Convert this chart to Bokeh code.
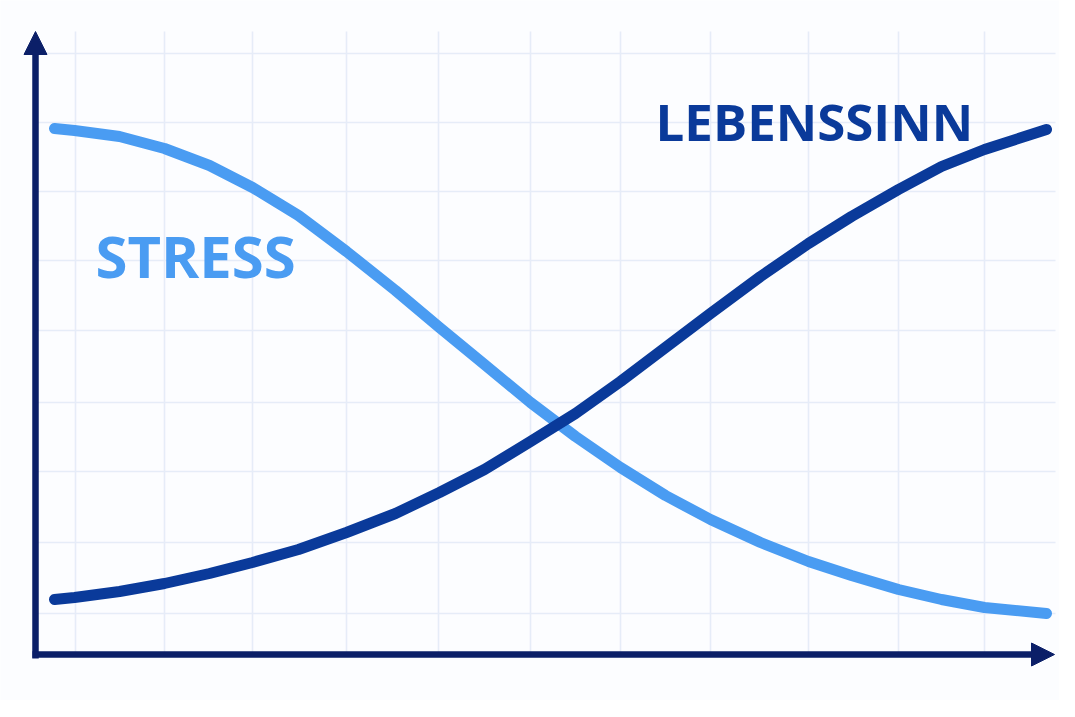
from bokeh.plotting import figure
from bokeh.models import Range1d, Arrow, NormalHead
from bokeh.core.properties import value
from bokeh.embed import file_html
from bokeh.resources import INLINE

# ---- data (unitless scale; origin at the axes corner) ----
x_vals = [19, 39, 84, 129, 174, 217, 263, 311, 360, 404, 449, 495, 540, 585,
          630, 675, 725, 773, 816, 863, 906, 949, 1011]
stress = [527, 525, 519, 507, 490, 468, 440, 404, 365, 328, 291, 253, 219, 188,
          160, 136, 113, 94, 80, 66, 56, 48, 42]
lebenssinn = [56, 58, 64, 72, 82, 93, 106, 123, 142, 163, 186, 214, 242, 274,
              308, 342, 379, 412, 439, 466, 489, 506, 526]
grid_x = [40, 129, 217, 311, 403, 495, 585, 675, 773, 863, 949]
grid_y = [42, 113, 184, 253, 325, 395, 464, 533, 602]
labels = ["STRESS", "LEBENSSINN"]

# ---- style ----
STRESS_C = "#4a9cf2"
LEBEN_C = "#0a3a9a"
AXIS_C = "#0b1f68"
GRID_C = "#e6ecf8"
BG = "#fcfdff"

W, H = 1059, 700
p = figure(width=W, height=H, output_backend="svg", toolbar_location=None,
           x_range=Range1d(-35, 1024), y_range=Range1d(-45, 655),
           min_border=0, background_fill_color=BG, border_fill_color=BG)
p.outline_line_color = None
p.axis.visible = False
p.grid.visible = False

# grid (drawn from tick lists)
gx0, gx1 = 1, 1020
gy0, gy1 = 0, 624
p.segment(x0=grid_x, y0=[gy0] * len(grid_x), x1=grid_x, y1=[gy1] * len(grid_x),
          line_color=GRID_C, line_width=1.6)
p.segment(x0=[gx0] * len(grid_y), y0=grid_y, x1=[gx1] * len(grid_y), y1=grid_y,
          line_color=GRID_C, line_width=1.6)

# curves
p.line(x_vals, stress, line_color=STRESS_C, line_width=11,
       line_cap="round", line_join="round")
p.line(x_vals, lebenssinn, line_color=LEBEN_C, line_width=11,
       line_cap="round", line_join="round")

# axes with arrows
p.add_layout(Arrow(x_start=0, y_start=-3, x_end=0, y_end=624,
                   line_color=AXIS_C, line_width=6.5,
                   end=NormalHead(size=23, fill_color=AXIS_C, line_color=AXIS_C, line_width=1)))
p.add_layout(Arrow(x_start=-3, y_start=1, x_end=1019, y_end=1,
                   line_color=AXIS_C, line_width=6.5,
                   end=NormalHead(size=23, fill_color=AXIS_C, line_color=AXIS_C, line_width=1)))

# labels
p.text(x=[60], y=[400], text=[labels[0]], text_color=STRESS_C,
       text_font=value("Open Sans"), text_font_style="bold", text_font_size="58px",
       text_align="left", text_baseline="alphabetic")
p.text(x=[620], y=[535], text=[labels[1]], text_color=LEBEN_C,
       text_font=value("Open Sans"), text_font_style="bold", text_font_size="51px",
       text_align="left", text_baseline="alphabetic")

open("out.html", "w").write(file_html(p, INLINE))
